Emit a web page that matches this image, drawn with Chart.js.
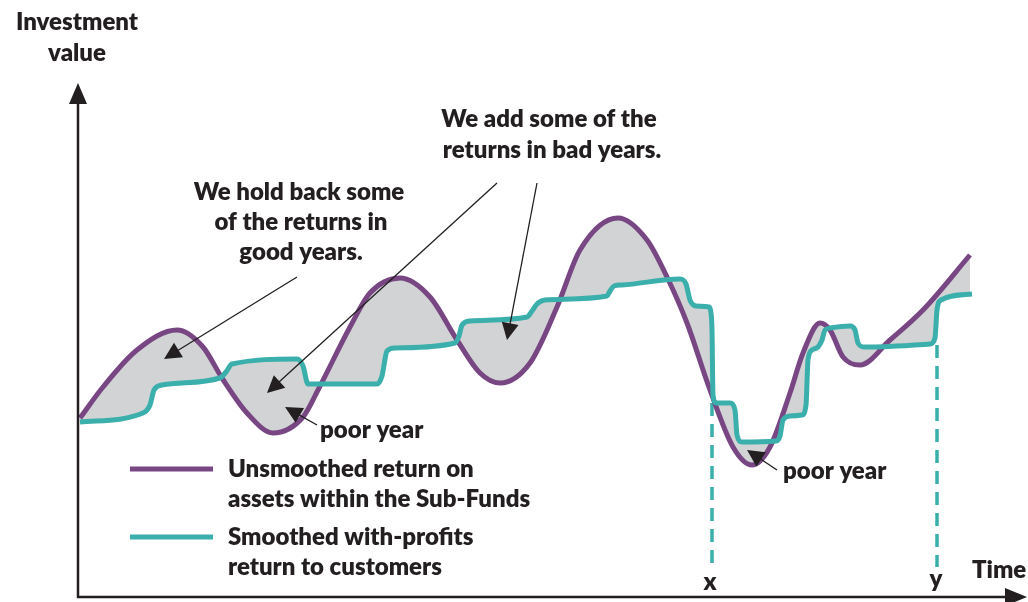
<!DOCTYPE html>
<html>
<head>
<meta charset="utf-8">
<script src="https://cdn.jsdelivr.net/npm/chart.js@4.4.1/dist/chart.umd.min.js"></script>
<style>
  html, body { margin: 0; padding: 0; background: #fff; }
  #wrap { width: 1028px; height: 602px; }
</style>
</head>
<body>
<div id="wrap"><canvas id="chart"></canvas></div>
<script>
// values: x = time, y = investment value (arbitrary units)
const unsmoothed = [
  [2,179],[25,210],[59,247],[99,267],[125,250],[144,219],[169,184],[195,164],[225,180],
  [240,207],[272,270],[292,304],[322,319],[352,300],[379,257],[402,224],[422,214],
  [452,234],[479,290],[502,347],[540,379],[569,357],[589,320],[609,274],[632,207],
  [655,150],[674,132],[692,150],[712,204],[725,244],[742,274],[752,267],[765,240],
  [782,232],[812,257],[845,287],[892,342]
];
const smoothed = [
  [2,175],[65,184],[72,192],[76,207],[84,212],[142,219],[148,225],[154,233],[219,238],
  [225,231],[230,213],[299,213],[304,221],[309,246],[317,249],[377,254],[381,261],
  [384,272],[392,276],[449,280],[454,286],[459,293],[467,297],[529,301],[532,306],
  [536,311],[544,312],[602,318],[608,313],[612,297],[618,291],[631,290],[633,284],
  [634,267],[635,202],[638,194],[652,194],[657,187],[659,162],[664,155],[698,156],
  [702,161],[705,177],[712,181],[724,182],[728,192],[730,237],[734,247],[740,250],
  [744,257],[747,267],[752,269],[772,271],[777,267],[780,254],[786,250],[852,253],
  [857,259],[859,287],[863,297],[894,303]
];
// the two marked points in time
const markX = [[634,194],[634,30]];
const markY = [[859,252],[859,30]];

const legendLabels = [
  ['Unsmoothed return on', 'assets within the Sub-Funds'],
  ['Smoothed with-profits', 'return to customers']
];

const PURPLE = '#774683';
const TEAL = '#3aafab';
const GREY = '#d1d3d4';
const INK = '#231f20';
const FONT = 'Lato, "Open Sans", sans-serif';

const toPts = arr => arr.map(p => ({x: p[0], y: p[1]}));

// annotation text, in chart units
const notes = [
  {t: 'Investment', x: -1, y: 575, a: 'center'},
  {t: 'value', x: -1, y: 544, a: 'center'},
  {t: 'We hold back some', x: 221, y: 405, a: 'center'},
  {t: 'of the returns in', x: 223, y: 375, a: 'center'},
  {t: 'good years.', x: 223, y: 345, a: 'center'},
  {t: 'We add some of the', x: 471, y: 478, a: 'center'},
  {t: 'returns in bad years.', x: 474, y: 447, a: 'center'},
  {t: 'poor year', x: 242, y: 167, a: 'left'},
  {t: 'poor year', x: 705, y: 126, a: 'left'},
  {t: 'x', x: 632, y: 15, a: 'center'},
  {t: 'y', x: 858, y: 18, a: 'center'},
  {t: 'Time', x: 894, y: 27, a: 'left'}
];
// pointer arrows: tail -> tip
const pointers = [
  [[219,320],[86,238]],
  [[419,414],[189,204]],
  [[459,414],[429,257]],
  [[239,172],[207,190]],
  [[699,127],[669,147]]
];

function arrowHead(ctx, x1, y1, x2, y2, len, half) {
  const a = Math.atan2(y2 - y1, x2 - x1);
  const bx = x2 - len * Math.cos(a), by = y2 - len * Math.sin(a);
  ctx.beginPath();
  ctx.moveTo(x2, y2);
  ctx.lineTo(bx + half * Math.sin(a), by - half * Math.cos(a));
  ctx.lineTo(bx - half * Math.sin(a), by + half * Math.cos(a));
  ctx.closePath();
  ctx.fill();
}

const annotate = {
  id: 'annotate',
  afterDatasetsDraw(chart) {
    const {ctx, scales: {x, y}} = chart;
    const px = v => x.getPixelForValue(v);
    const py = v => y.getPixelForValue(v);
    ctx.save();
    ctx.strokeStyle = INK;
    ctx.fillStyle = INK;

    // axes with arrow heads
    ctx.lineWidth = 2.5;
    ctx.beginPath();
    ctx.moveTo(px(0), py(500));
    ctx.lineTo(px(0), py(0));
    ctx.lineTo(px(930), py(0));
    ctx.stroke();
    arrowHead(ctx, px(0), py(0), px(0), py(514), 21, 9);
    arrowHead(ctx, px(0), py(0), px(949), py(0), 22, 9);

    // pointer arrows
    ctx.lineWidth = 1.3;
    pointers.forEach(([s, e]) => {
      const x1 = px(s[0]), y1 = py(s[1]), x2 = px(e[0]), y2 = py(e[1]);
      const a = Math.atan2(y2 - y1, x2 - x1);
      ctx.beginPath();
      ctx.moveTo(x1, y1);
      ctx.lineTo(x2 - 10 * Math.cos(a), y2 - 10 * Math.sin(a));
      ctx.stroke();
      arrowHead(ctx, x1, y1, x2, y2, 17, 8.5);
    });

    // text
    ctx.font = '800 24px ' + FONT;
    ctx.textBaseline = 'middle';
    notes.forEach(n => {
      ctx.textAlign = n.a;
      ctx.fillText(n.t, px(n.x), py(n.y));
    });

    // legend
    const rows = [[128, PURPLE], [60, TEAL]];
    rows.forEach(([ly, col], i) => {
      ctx.strokeStyle = col;
      ctx.lineWidth = 5;
      ctx.beginPath();
      ctx.moveTo(px(52), py(ly));
      ctx.lineTo(px(135), py(ly));
      ctx.stroke();
      ctx.textAlign = 'left';
      ctx.fillText(legendLabels[i][0], px(150), py(ly));
      ctx.fillText(legendLabels[i][1], px(150), py(ly - 30));
    });
    ctx.restore();
  }
};

new Chart(document.getElementById('chart'), {
  type: 'line',
  data: {
    datasets: [
      {
        label: 'Unsmoothed',
        data: toPts(unsmoothed),
        borderColor: PURPLE,
        backgroundColor: GREY,
        borderWidth: 5,
        fill: '+1',
        cubicInterpolationMode: 'monotone',
        pointRadius: 0,
        order: 2
      },
      {
        label: 'Smoothed',
        data: toPts(smoothed),
        borderColor: TEAL,
        borderWidth: 5,
        fill: false,
        cubicInterpolationMode: 'monotone',
        pointRadius: 0,
        order: 1
      },
      {
        data: toPts(markX),
        borderColor: TEAL,
        borderWidth: 3.5,
        borderDash: [13, 8],
        pointRadius: 0,
        fill: false,
        order: 3
      },
      {
        data: toPts(markY),
        borderColor: TEAL,
        borderWidth: 3.5,
        borderDash: [13, 8],
        pointRadius: 0,
        fill: false,
        order: 3
      }
    ]
  },
  options: {
    responsive: true,
    maintainAspectRatio: false,
    animation: false,
    layout: { padding: { left: 78, right: 0, top: 0, bottom: 5 } },
    scales: {
      x: { type: 'linear', display: false, min: 0, max: 950 },
      y: { type: 'linear', display: false, min: 0, max: 597 }
    },
    plugins: {
      legend: { display: false },
      tooltip: { enabled: false }
    }
  },
  plugins: [annotate]
});
</script>
</body>
</html>
